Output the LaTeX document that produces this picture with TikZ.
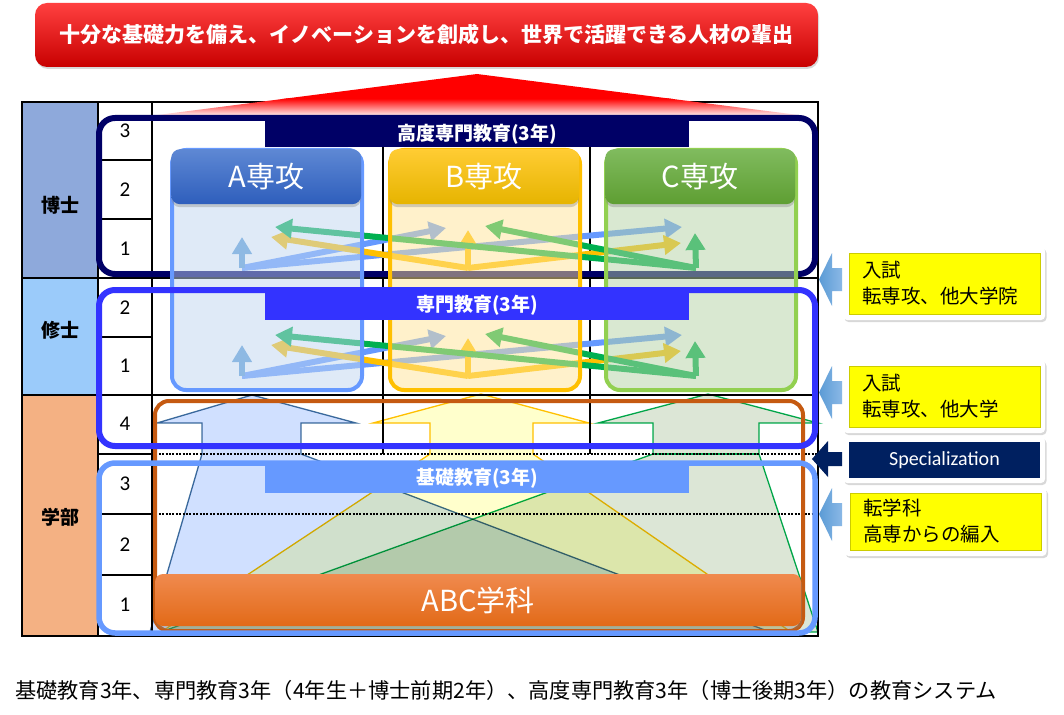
\documentclass[tikz,border=0pt]{standalone}
\usepackage{fontspec}
\setmainfont{Noto Sans CJK JP}
\newfontfamily\numfont{Carlito}
\usetikzlibrary{arrows.meta,shadows}
\newcommand{\fsz}[1]{\fontsize{#1}{#1}\selectfont}
\newcommand{\fszl}[2]{\fontsize{#1}{#2}\selectfont}
\definecolor{navyc}{HTML}{000066}
\definecolor{blueb}{HTML}{3333FF}
\definecolor{lblue}{HTML}{6699FF}
\definecolor{orangeb}{HTML}{C55A11}
\definecolor{cellD}{HTML}{8EA9DB}
\definecolor{cellM}{HTML}{9BCBFA}
\definecolor{cellG}{HTML}{F4B183}
\definecolor{arrA}{HTML}{6699FF}
\definecolor{arrAup}{HTML}{5B9BD5}
\definecolor{arrB}{HTML}{FFC000}
\definecolor{arrC}{HTML}{00B050}
\definecolor{bodyA}{HTML}{C1D7F1}
\definecolor{bodyB}{HTML}{FFE599}
\definecolor{bodyC}{HTML}{B5D3A5}
\definecolor{brdA}{HTML}{6699FF}
\definecolor{brdB}{HTML}{FFC000}
\definecolor{brdC}{HTML}{92D050}
\definecolor{hdAt}{HTML}{5E88D4}
\definecolor{hdAb}{HTML}{2E5EBC}
\definecolor{hdBt}{HTML}{FFCC33}
\definecolor{hdBb}{HTML}{E6B400}
\definecolor{hdCt}{HTML}{80BB5E}
\definecolor{hdCb}{HTML}{5E9E32}
\definecolor{bigA}{HTML}{D0E0FF}
\definecolor{bigB}{HTML}{FFFFCC}
\definecolor{bigC}{HTML}{DCE6D6}
\definecolor{bigAl}{HTML}{41719C}
\definecolor{spec}{HTML}{002060}
\definecolor{sideA}{HTML}{5B9BD5}
\definecolor{sideAl}{HTML}{8AB8E6}
\definecolor{yel}{HTML}{FFFF00}
\definecolor{yeld}{HTML}{CCCC00}
\definecolor{abct}{HTML}{F08A4E}
\definecolor{abcb}{HTML}{E26A18}
\definecolor{bantop}{HTML}{FF4040}
\definecolor{banbot}{HTML}{C80000}

\newcommand{\myforks}[2]{%
  \coordinate (#1Ab) at (242,{268+#2});
  \coordinate (#1Au) at (242,{237+#2});
  \coordinate (#1AB) at (446,{228+#2});
  \coordinate (#1AC) at (682,{227+#2});
  \coordinate (#1Bb) at (468,{268+#2});
  \coordinate (#1Bu) at (468,{230+#2});
  \coordinate (#1BA) at (271,{237+#2});
  \coordinate (#1BC) at (681,{243+#2});
  \coordinate (#1Cb) at (696,{268+#2});
  \coordinate (#1Cu) at (695,{233+#2});
  \coordinate (#1CA) at (275,{227+#2});
  \coordinate (#1CB) at (485,{226+#2});
  \draw[xarr,arrA] (#1Ab) -- (#1AB);
  \draw[xarr,arrA] (#1Ab) -- (#1AC);
  \draw[xarr,arrAup] (#1Ab) -- (#1Au);
  \draw[xarr,arrB] (#1Bb) -- (#1BA);
  \draw[xarr,arrB] (#1Bb) -- (#1BC);
  \draw[xarr,arrB] (#1Bb) -- (#1Bu);
  \draw[xarr,arrC] (#1Cb) -- (#1CA);
  \draw[xarr,arrC] (#1Cb) -- (#1CB);
  \draw[xarr,arrC] (#1Cb) -- (#1Cu);
}

\begin{document}
\begin{tikzpicture}[x=1pt,y=-1pt,
  gridl/.style={line width=1.5pt,black},
  mainbox/.style={rounded corners=16pt,line width=6pt},
  labbox/.style={inner sep=0pt,text=white,font=\bfseries\fsz{19},minimum width=424pt},
  xarr/.style={line width=6pt,-{Triangle[width=19pt,length=17pt]}},
  colbody/.style={fill opacity=0.5,rounded corners=14pt},
  colborder/.style={line width=4pt,rounded corners=14pt},
  header/.style={rounded corners=9pt,minimum width=190pt,minimum height=55pt,anchor=north west,text=white,font=\fsz{29},inner sep=0pt,drop shadow={opacity=0.35,shadow xshift=0pt,shadow yshift=-3pt}},
  bigarr/.style={blend mode=multiply,line width=1.3pt},
  dotl/.style={line width=2.6pt,dash pattern=on 2pt off 1.4pt,black},
  outerbox/.style={fill=white,rounded corners=4pt,minimum width=202pt,inner sep=0pt,drop shadow={opacity=0.3,shadow xshift=1.5pt,shadow yshift=-2pt}},
  yelbox/.style={fill=yel,draw=yeld,line width=1pt,minimum width=191pt,inner sep=0pt},
  sidearr/.style={left color=sideA,right color=sideAl},
  sidetext/.style={anchor=west,align=left,font=\fszl{19.5}{26},inner sep=0pt},
  numtxt/.style={font=\numfont\fsz{21},inner sep=0pt},
  celltxt/.style={font=\bfseries\fsz{19},inner sep=0pt}
]
\useasboundingbox (0,0) rectangle (1064,714);
\fill[white] (0,0) rectangle (1064,714);

% ---- banner ----
\node[rounded corners=12pt,minimum width=783pt,minimum height=64pt,top color=bantop,middle color=red,bottom color=banbot,drop shadow={opacity=0.3,shadow xshift=1pt,shadow yshift=-2pt},text=white,font=\bfseries\fsz{21},inner sep=0pt] (banner) at (426.5,35) {十分な基礎力を備え、イノベーションを創成し、世界で活躍できる人材の輩出};

% ---- table cells ----
\fill[cellD] (22,102) rectangle (98,278);
\fill[cellM] (22,278) rectangle (98,395);
\fill[cellG] (22,395) rectangle (98,636);
\node[celltxt] (dlab) at (60,205) {博士};
\node[celltxt] (mlab) at (60,330) {修士};
\node[celltxt] (glab) at (60,517) {学部};

\draw[gridl] (22,102) rectangle (818,636);
\draw[gridl] (98,102) -- (98,636);
\draw[gridl] (152,102) -- (152,636);
\draw[gridl] (22,278) -- (818,278);
\draw[gridl] (22,395) -- (818,395);
\foreach \yy in {160,219,337,454,514,575} \draw[gridl] (98,\yy) -- (152,\yy);
\draw[gridl] (383,102) -- (383,454);
\draw[gridl] (590,102) -- (590,454);

% ---- red triangle ----
\begin{scope}
  \clip (477,74) -- (806,116) -- (150,116) -- cycle;
  \fill[red] (140,70) rectangle (820,99);
  \shade[top color=red,bottom color=red!4] (140,98.5) rectangle (820,116);
\end{scope}

% ---- numbers ----
\node[numtxt] (d3) at (125,131) {3};
\node[numtxt] (d2) at (125,190) {2};
\node[numtxt] (d1) at (125,249) {1};
\node[numtxt] (m2) at (125,308) {2};
\node[numtxt] (m1) at (125,366) {1};
\node[numtxt] (g4) at (125,424) {4};
\node[numtxt] (g3) at (125,484) {3};
\node[numtxt] (g2) at (125,545) {2};
\node[numtxt] (g1) at (125,605) {1};

% ---- big bottom arrows ----
\filldraw[bigarr,fill=bigA,draw=bigAl] (252,395) -- (356,423) -- (301,423) -- (301,454) -- (770,632) -- (150,632) -- (202,454) -- (202,423) -- (157,423) -- cycle;
\filldraw[bigarr,fill=bigB,draw=arrB] (481,394) -- (589,423) -- (533,423) -- (533,454) -- (791,632) -- (161,632) -- (430,454) -- (430,423) -- (373,423) -- cycle;
\filldraw[bigarr,fill=bigC,draw=arrC] (708,394) -- (818,423) -- (759,423) -- (759,454) -- (818,632) -- (161,632) -- (653,454) -- (653,423) -- (598,423) -- cycle;
\draw[arrC,line width=1.3pt] (653,454) -- (759,454);

\draw[dotl] (152,454) -- (818,454);
\draw[dotl] (152,514) -- (818,514);

% ---- doctoral box ----
\draw[mainbox,navyc] (99,118) rectangle (815,274);

% ---- cross arrows ----
\myforks{d}{0}
\myforks{m}{108}

% ---- column boxes ----
\path[colbody,fill=bodyA] (172,150) rectangle (362,390);
\path[colbody,fill=bodyB] (390,150) rectangle (580,390);
\path[colbody,fill=bodyC] (606,150) rectangle (796,390);
\draw[colborder,brdA] (172,150) rectangle (362,390);
\draw[colborder,brdB] (390,150) rectangle (580,390);
\draw[colborder,brdC] (606,150) rectangle (796,390);
\node[header,top color=hdAt,bottom color=hdAb] (hA) at (171,149) {A専攻};
\node[header,top color=hdBt,bottom color=hdBb] (hB) at (389,149) {B専攻};
\node[header,top color=hdCt,bottom color=hdCb] (hC) at (605,149) {C専攻};

% ---- other boxes ----
\draw[orangeb,line width=4pt,rounded corners=14pt] (155,401) rectangle (803,631);
\draw[mainbox,blueb] (99,290) rectangle (815,446);
\draw[mainbox,lblue,line width=5.5pt] (99,463) rectangle (815,633);

\node[labbox,fill=navyc,minimum height=26pt] (labD) at (477,134) {高度専門教育(3年)};
\node[labbox,fill=blueb,minimum height=29pt] (labM) at (477,305.5) {専門教育(3年)};
\node[labbox,fill=lblue,minimum height=29pt] (labG) at (477,478.5) {基礎教育(3年)};

\node[rounded corners=8pt,minimum width=646pt,minimum height=52pt,top color=abct,bottom color=abcb,drop shadow={opacity=0.35,shadow xshift=1pt,shadow yshift=-3pt},text=white,font=\fsz{29},inner sep=0pt] (abc) at (478,600) {ABC学科};

% ---- right side ----
\path[sidearr] (819,279.5) -- (832,253) -- (832,268) -- (842,268) -- (842,291) -- (832,291) -- (832,306) -- cycle;
\path[sidearr] (819,392.5) -- (832,366) -- (832,381) -- (842,381) -- (842,404) -- (832,404) -- (832,419) -- cycle;
\path[fill=spec] (812,459) -- (828,441) -- (828,452) -- (842,452) -- (842,466) -- (828,466) -- (828,477) -- cycle;
\path[sidearr] (819,514) -- (832,488) -- (832,503) -- (842,503) -- (842,526) -- (832,526) -- (832,541) -- cycle;

\node[outerbox,minimum height=73pt] (o1) at (944,283.5) {};
\node[yelbox,minimum height=61pt] (y1) at (944.5,283.5) {};
\node[sidetext] (t1) at (862,283.5) {入試\\転専攻、他大学院};

\node[outerbox,minimum height=73pt] (o2) at (944,396.5) {};
\node[yelbox,minimum height=61pt] (y2) at (944.5,396.5) {};
\node[sidetext] (t2) at (862,396) {入試\\転専攻、他大学};

\node[outerbox,minimum height=46pt] (o3) at (944,460) {};
\node[fill=spec,minimum width=191pt,minimum height=36pt,inner sep=0pt,text=white,font=\numfont\fsz{20}] (y3) at (944.5,460) {Specialization};

\node[outerbox,minimum height=68pt] (o4) at (945.5,522) {};
\node[yelbox,minimum height=57pt] (y4) at (946,521.5) {};
\node[sidetext] (t4) at (863,521) {転学科\\高専からの編入};

% ---- caption ----
\node[anchor=west,font=\fsz{21.2},inner sep=0pt] (cap) at (15,690) {基礎教育3年、専門教育3年（4年生＋博士前期2年）、高度専門教育3年（博士後期3年）の教育システム};
\end{tikzpicture}
\end{document}
